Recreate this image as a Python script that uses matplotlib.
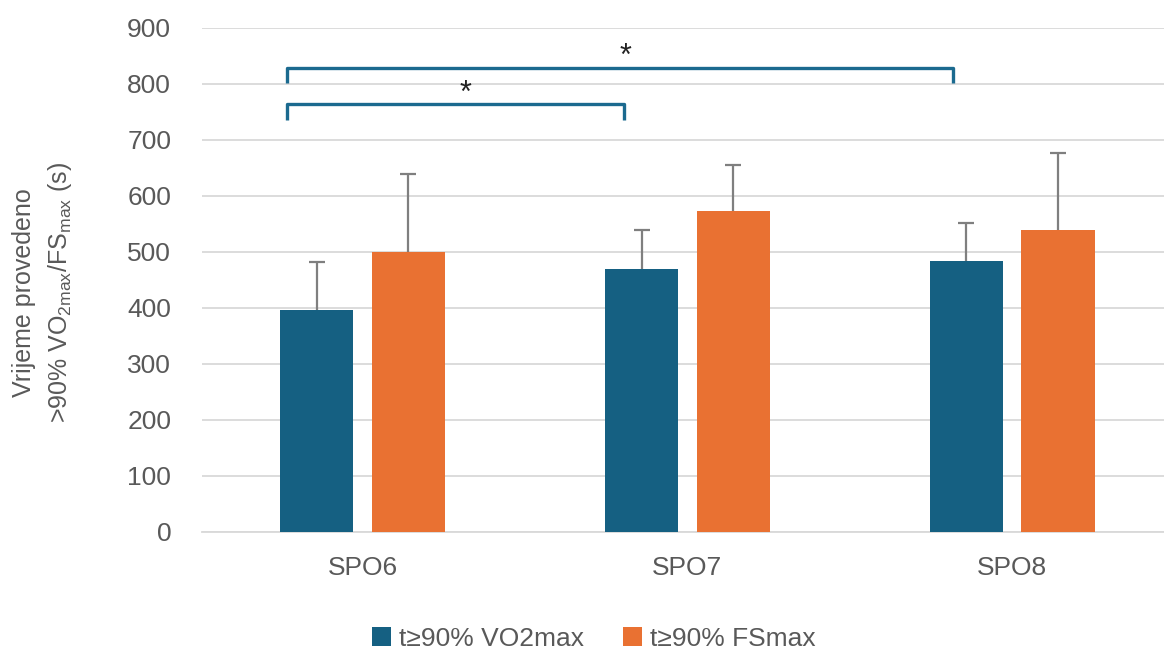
import matplotlib
matplotlib.use("Agg")
import matplotlib.pyplot as plt
import numpy as np
from matplotlib.patches import Patch

# Data
categories = ["SPO6", "SPO7", "SPO8"]
vo2_mean = [396, 469, 483]
vo2_sd = [86, 70, 68]
fs_mean = [500, 573, 540]
fs_sd = [140, 82, 136]
series_labels = ["t≥90% VO2max", "t≥90% FSmax"]

BLUE = "#156082"
ORANGE = "#E97132"
BRACKET = "#1B6A8F"
TEXT = "#595959"
GRID = "#D9D9D9"

plt.rcParams["font.family"] = ["Liberation Sans", "DejaVu Sans"]

fig = plt.figure(figsize=(11.64, 6.49), dpi=100)
ax = fig.add_axes([0.1733, 0.1803, 0.8267, 0.7766])

x = np.arange(len(categories))
width = 0.226
offset = 0.141

err_kw = dict(ecolor="#7F7F7F", elinewidth=1.6, capsize=6, capthick=1.6)
for xs, means, sds, color in [(x - offset, vo2_mean, vo2_sd, BLUE),
                              (x + offset, fs_mean, fs_sd, ORANGE)]:
    cont = ax.bar(xs, means, width, color=color, zorder=3,
                  yerr=[np.zeros(len(sds)), sds], error_kw=err_kw)
    # only the upper whisker carries a cap
    caplines = cont.errorbar.lines[1]
    if len(caplines) == 2:
        caplines[0].set_visible(False)

ax.set_xlim(-0.495, 2.467)
ax.set_ylim(0, 900)
ax.set_yticks(np.arange(0, 901, 100))
ax.set_xticks(x)
ax.set_xticklabels(categories)
ax.tick_params(axis="both", length=0, labelsize=19, labelcolor=TEXT)
ax.tick_params(axis="x", pad=17)
ax.tick_params(axis="y", pad=22)
ax.yaxis.grid(True, color=GRID, linewidth=1.3, zorder=0)
ax.set_axisbelow(True)
for side in ["top", "right", "left"]:
    ax.spines[side].set_visible(False)
ax.spines["bottom"].set_color(GRID)
ax.spines["bottom"].set_linewidth(1.3)

ax.set_ylabel("Vrijeme provedeno\n>90% VO$_{\\mathregular{2max}}$/FS$_{\\mathregular{max}}$ (s)",
              fontsize=18, color=TEXT, labelpad=14, linespacing=1.45)
ax.yaxis.set_label_coords(-0.133, 0.475)

# Significance brackets
brackets = [
    (-0.232, 0.805, 764, 735, 0.318, 782),
    (-0.232, 1.817, 829, 802, 0.808, 848),
]
for x0, x1, ytop, yleg, xs, ys in brackets:
    ax.plot([x0, x0, x1, x1], [yleg, ytop, ytop, yleg], color=BRACKET,
            linewidth=2.4, solid_joinstyle="round", solid_capstyle="butt",
            zorder=4, clip_on=False)
    ax.text(xs, ys, "*", ha="center", va="center", fontsize=22, color="#222222")

handles = [Patch(facecolor=BLUE), Patch(facecolor=ORANGE)]
fig.legend(handles, series_labels, loc="center", bbox_to_anchor=(0.51, 0.016),
           ncol=2, frameon=False, fontsize=19, labelcolor=TEXT,
           handlelength=0.7, handleheight=0.7, handletextpad=0.3,
           columnspacing=1.5)

fig.savefig("out.png", dpi=100)
